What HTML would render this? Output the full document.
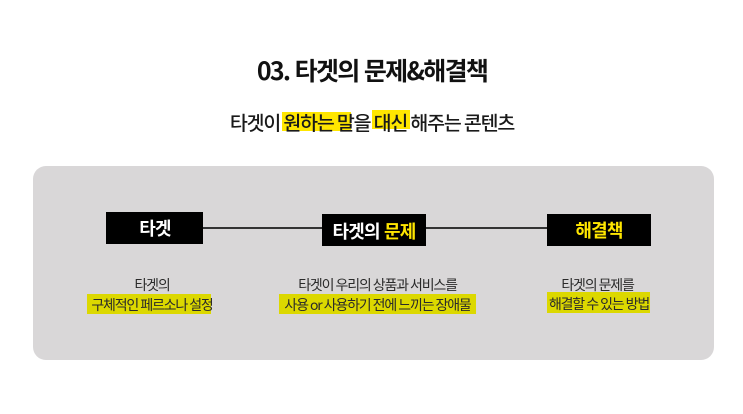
<!DOCTYPE html>
<html lang="ko"><head><meta charset="utf-8">
<style>
html,body{margin:0;padding:0;background:#fff}
#c{position:relative;width:743px;height:414px;overflow:hidden;background:#fff;font-family:"Noto Sans CJK KR",sans-serif}
#c div{position:absolute;box-sizing:border-box}
.t{white-space:nowrap;text-align:center;transform:translateX(-50%)}
.s{font-size:14px;line-height:20px;color:#2a2a2a;letter-spacing:-1.2px;word-spacing:-.5px}
.b{font-size:18px;line-height:32px;font-weight:700;color:#fff;letter-spacing:-.8px}
.y{color:#ffe600}
</style></head><body>
<div id="c">
<div style="left:33px;top:166px;width:681px;height:194px;background:#d9d7d8;border-radius:13px"></div>

<div class="t" style="left:372px;top:51px;font-size:25px;line-height:38px;font-weight:700;color:#111;letter-spacing:-1.7px">03. 타겟의 문제&amp;해결책</div>

<div style="left:282px;top:112px;width:69px;height:19px;background:#ffe600"></div>
<div style="left:372px;top:110px;width:38px;height:19px;background:#ffe600"></div>
<div class="t" style="left:372px;top:108px;font-size:19.5px;line-height:28px;font-weight:500;color:#1a1a1a;letter-spacing:-1.2px;word-spacing:-1px">타겟이 원하는 말을 대신 해주는 콘텐츠</div>

<div style="left:203px;top:227px;width:344px;height:2px;background:#333"></div>
<div style="left:106px;top:212px;width:97px;height:32px;background:#000"></div>
<div style="left:322px;top:214px;width:104px;height:32px;background:#000"></div>
<div style="left:547px;top:214px;width:104px;height:32px;background:#000"></div>
<div class="t b" style="left:155px;top:212px">타겟</div>
<div class="t b" style="left:374px;top:215px">타겟의 <span class="y">문제</span></div>
<div class="t b" style="left:599px;top:214px"><span class="y">해결책</span></div>

<div style="left:87px;top:294px;width:124px;height:20px;background:#dcd800"></div>
<div style="left:279px;top:294px;width:197px;height:20px;background:#dcd800"></div>
<div style="left:547px;top:292px;width:103px;height:21px;background:#dcd800"></div>

<div class="t s" style="left:152px;top:275px">타겟의</div>
<div class="t s" style="left:152px;top:295px">구체적인 페르소나 설정</div>
<div class="t s" style="left:377.5px;top:275px">타겟이 우리의 상품과 서비스를</div>
<div class="t s" style="left:377.5px;top:295px">사용 or 사용하기 전에 느끼는 장애물</div>
<div class="t s" style="left:597.5px;top:275px">타겟의 문제를</div>
<div class="t s" style="left:599px;top:294px">해결할 수 있는 방법</div>
</div>
</body></html>
